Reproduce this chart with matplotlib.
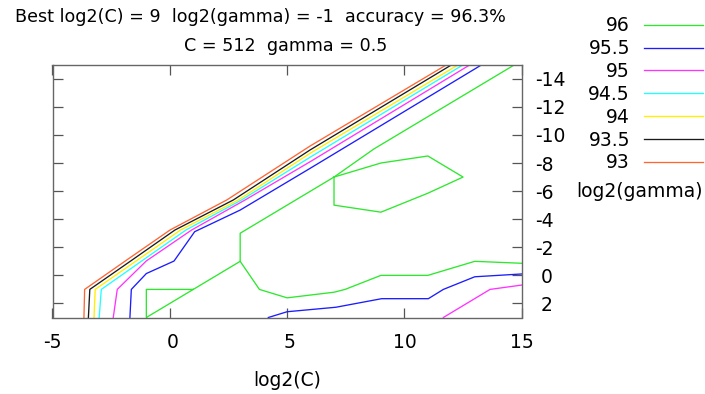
import matplotlib
matplotlib.use("Agg")
import matplotlib.pyplot as plt

# accuracy levels of the contour lines and their colours
levels = ["96", "95.5", "95", "94.5", "94", "93.5", "93"]
colors = ["#2ee82e", "#1c1cff", "#ff33ff", "#22ffff", "#ffee00", "#1a1a1a", "#ff6633"]

# contour paths in (log2(C), log2(gamma))
acc96_main_c = [1, -1, -1, 1, 3, 3, 5, 7, 8.7, 11, 13, 14.7]
acc96_main_g = [1, 1, 3, 1, -1, -3, -5, -7, -9, -11.3, -13.3, -15]
acc96_low_c = [3, 3.82, 5, 7, 7.47, 9, 11, 13, 15]
acc96_low_g = [-1, 1, 1.6, 1.2, 1, 0, 0, -1, -0.86]
acc96_loop_c = [7, 7, 9, 11, 12.5, 11, 9, 7]
acc96_loop_g = [-7, -5, -4.5, -5.85, -7, -8.5, -8, -7]

acc955_c = [-1.70, -1.64, -1.0, 0.18, 1.06, 3, 5.98, 13.3]
acc955_g = [3, 1, -0.13, -1.02, -3.11, -4.65, -7.62, -15]
acc955_low_c = [4.2, 5.0, 7.08, 9.03, 11.02, 11.66, 13.0, 15]
acc955_low_g = [3, 2.59, 2.27, 1.66, 1.66, 1.0, 0.1, -0.1]

acc95_c = [-2.41, -2.24, -1.0, 0.93, 3.21, 5.98, 12.8]
acc95_g = [3, 1, -1.03, -3.23, -5.37, -8.09, -15]
acc95_low_c = [11.66, 13.65, 15]
acc95_low_g = [3, 1, 0.69]

# the four outer lines share the same gamma samples
fan_g = [3, 1, -1.09, -3.23, -5.37]
acc945_c = [-3.01, -2.92, -1.14, 0.69, 3.06, 5.98, 12.51]
acc945_g = fan_g + [-8.41, -15]
acc94_c = [-3.23, -3.18, -1.38, 0.46, 2.92, 5.98, 12.30]
acc94_g = fan_g + [-8.69, -15]
acc935_c = [-3.47, -3.41, -1.61, 0.22, 2.71, 5.98, 12.02]
acc935_g = fan_g + [-8.93, -15]
acc93_c = [-3.66, -3.63, -1.84, 0.01, 2.43, 5.98, 11.80]
acc93_g = fan_g + [-9.21, -15]

paths = [
    [(acc96_main_c, acc96_main_g), (acc96_low_c, acc96_low_g), (acc96_loop_c, acc96_loop_g)],
    [(acc955_c, acc955_g), (acc955_low_c, acc955_low_g)],
    [(acc95_c, acc95_g), (acc95_low_c, acc95_low_g)],
    [(acc945_c, acc945_g)],
    [(acc94_c, acc94_g)],
    [(acc935_c, acc935_g)],
    [(acc93_c, acc93_g)],
]

xticks = [-5, 0, 5, 10, 15]
xticklabels = ["-5", " 0", " 5", "10", "15"]
yticks = [-14, -12, -10, -8, -6, -4, -2, 0, 2]
yticklabels = ["-14", "-12", "-10", "-8", "-6", "-4", "-2", " 0", " 2"]

W, H = 705, 394
fs = 13.5
fig = plt.figure(figsize=(W / 100, H / 100), dpi=100)
ax = fig.add_axes([52.5 / W, 1 - 317.5 / H, (521.7 - 52.5) / W, (317.5 - 64.7) / H])

handles = []
for lev, col, segs in zip(levels, colors, paths):
    for i, (c, g) in enumerate(segs):
        ln, = ax.plot(c, g, color=col, lw=0.95, label=lev if i == 0 else None)
        if i == 0:
            handles.append(ln)

ax.set_xlim(-5, 15)
ax.set_ylim(3, -15)
ax.set_xticks(xticks)
ax.set_xticklabels(xticklabels)
ax.set_yticks(yticks)
ax.set_yticklabels(yticklabels)
ax.tick_params(axis="x", direction="in", top=True, bottom=True, length=7.2,
               width=0.9, color="#555555", pad=11, labelsize=fs)
ax.tick_params(axis="y", direction="in", left=True, right=True, labelleft=False,
               labelright=True, length=7.2, width=0.9, color="#555555",
               pad=9.5, labelsize=fs)
for sp in ax.spines.values():
    sp.set_color("#666666")
    sp.set_linewidth(1.0)

fig.text(260 / W, 1 - 21.7 / H,
         "Best log2(C) = 9  log2(gamma) = -1  accuracy = 96.3%",
         ha="center", va="baseline", fontsize=12.6)
fig.text(286 / W, 1 - 50.7 / H, "C = 512  gamma = 0.5",
         ha="center", va="baseline", fontsize=12.6)
fig.text(287 / W, 1 - 381 / H, "log2(C)", ha="center", va="center", fontsize=fs)
fig.text(703 / W, 1 - 191.7 / H, "log2(gamma)", ha="right", va="center", fontsize=fs)

fig.legend(handles=handles, loc="upper right", bbox_to_anchor=(703 / W, 1 - 16.3 / H),
           frameon=False, markerfirst=False, fontsize=fs, handlelength=3.15,
           handletextpad=0.75, labelspacing=0.205, borderpad=0, borderaxespad=0)

fig.savefig("out.png", dpi=100)
